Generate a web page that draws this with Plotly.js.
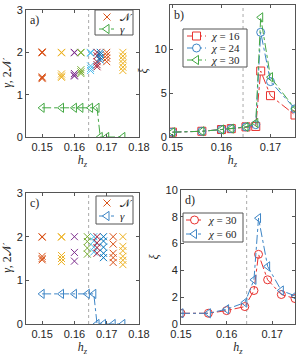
<!DOCTYPE html>
<html><head><meta charset="utf-8">
<script src="https://cdn.plot.ly/plotly-3.0.1.min.js"></script>
<style>html,body{margin:0;padding:0;background:#fff}#plot{width:299px;height:356px}</style>
</head><body><div id="plot"></div>
<script>
// ---------- data: panels a) and b) ----------
const hzAB = [0.15, 0.156, 0.16, 0.162, 0.165, 0.167, 0.168, 0.17, 0.175];
const gammaA = [0.69, 0.69, 0.69, 0.69, 0.69, 0.69, 0, 0, 0];
const twoNA = [
  [2.0, 1.99, 2.01, 1.42, 1.38, 1.40],
  [2.0, 1.99, 1.49, 1.44, 1.41],
  [2.0, 1.99, 1.50, 1.46, 1.44],
  [2.0, 1.99, 1.59, 1.54, 1.50],
  [2.0, 1.98, 1.68, 1.62, 1.57],
  [2.0, 1.92, 1.78, 1.71, 1.66],
  [2.0, 1.95, 1.88, 1.82],
  [2.0, 1.93, 1.86, 1.78],
  [2.0, 1.91, 1.83, 1.74, 1.65, 1.57]
];
const xiB16 = [0.55, 0.65, 0.85, 0.95, 1.15, 1.2, 7.5, 4.7, 2.5];
const xiB24 = [0.55, 0.65, 0.85, 0.95, 1.15, 1.4, 11.9, 6.3, 3.2];
const xiB30 = [0.55, 0.65, 0.85, 0.95, 1.15, 1.6, 13.6, 6.8, 3.2];
// ---------- data: panels c) and d) ----------
const hzCD = [0.15, 0.156, 0.16, 0.164, 0.166, 0.167, 0.169, 0.172, 0.175];
const gammaC = [0.69, 0.69, 0.69, 0.69, 0.69, 0, 0, 0, 0];
const twoNC = [
  [2.0, 1.99, 1.55, 1.50, 1.47],
  [2.0, 1.99, 1.57, 1.50, 1.43],
  [2.0, 1.64, 1.44],
  [2.0, 1.89, 1.74, 1.60],
  [2.0, 1.90, 1.76, 1.65],
  [2.0, 1.86, 1.75, 1.62],
  [2.0, 1.90, 1.76, 1.62, 1.52],
  [2.0, 1.83, 1.62, 1.52, 1.41],
  [2.0, 1.78, 1.68, 1.55, 1.46, 1.36]
];
const xiD30 = [0.8, 0.8, 1.0, 1.3, 2.5, 5.2, 3.3, 2.2, 1.9];
const xiD60 = [0.8, 0.8, 1.1, 1.6, 3.3, 7.9, 4.3, 2.5, 2.1];
const hzCrit = 0.1644;
const ticksAC = [0.15, 0.16, 0.17, 0.18];
const ticksBD = [0.15, 0.16, 0.17];
const legNamesA = ['𝒩', 'γ'];
const legNamesB = ['χ = 16', 'χ = 24', 'χ = 30'];
const legNamesD = ['χ = 30', 'χ = 60'];

// ---------- styling ----------
const W = 299, H = 356;
const pal = ['#0072BD','#D95319','#EDB120','#7E2F8E','#77AC30','#4DBEEE','#A2142F'];
const RED = '#e8312e', BLUE = '#3d85c6', GREEN = '#44a844';
const tickFont = {family: 'Liberation Sans, Arial, sans-serif', size: 11, color: '#262626'};
const mathFont = {family: 'Liberation Serif, DejaVu Serif, serif', size: 12, color: '#262626'};
const legFont = {family: 'Liberation Serif, DejaVu Serif, serif', size: 11, color: '#262626'};
function px(x0, x1) { return [x0 / W, x1 / W]; }
function py(top, bot) { return [1 - bot / H, 1 - top / H]; }
function ital(s) { return s.replace(/([χγ])/g, '<i>$1</i>'); }

const traces = [];
const shapes = [];
const annotations = [];
function crossTraces(hz, cols, xa, ya) {
  cols.forEach((ys, i) => {
    const c = pal[(i + 1) % pal.length];
    traces.push({
      x: ys.map(() => hz[i]), y: ys, xaxis: xa, yaxis: ya, mode: 'markers', type: 'scatter',
      showlegend: false,
      marker: {symbol: 'x-thin', size: 7, color: c, line: {width: 1, color: c}}
    });
  });
}
function lineTrace(x, y, xa, ya, color, sym) {
  traces.push({
    x: x, y: y, xaxis: xa, yaxis: ya, mode: 'lines+markers', type: 'scatter', showlegend: false,
    line: {color: color, width: 1, dash: 'dashdot'},
    marker: {symbol: sym, size: 8, color: color, line: {width: 1, color: color}}
  });
}
crossTraces(hzAB, twoNA, 'x', 'y');
lineTrace(hzAB, gammaA, 'x', 'y', GREEN, 'triangle-left-open');
lineTrace(hzAB, xiB16, 'x2', 'y2', RED, 'square-open');
lineTrace(hzAB, xiB24, 'x2', 'y2', BLUE, 'circle-open');
lineTrace(hzAB, xiB30, 'x2', 'y2', GREEN, 'triangle-left-open');
crossTraces(hzCD, twoNC, 'x3', 'y3');
lineTrace(hzCD, gammaC, 'x3', 'y3', BLUE, 'triangle-left-open');
lineTrace(hzCD, xiD30, 'x4', 'y4', RED, 'circle-open');
lineTrace(hzCD, xiD60, 'x4', 'y4', BLUE, 'triangle-left-open');

// compact MATLAB-style legends drawn in pixel space (legend glyphs, not data)
function P(x, y) { return (x / W).toFixed(5) + ',' + (1 - y / H).toFixed(5); }
function glyphPath(sym, cx, cy) {
  if (sym === 'x') { const r = 3.5;
    return 'M' + P(cx - r, cy - r) + 'L' + P(cx + r, cy + r) + 'M' + P(cx - r, cy + r) + 'L' + P(cx + r, cy - r); }
  if (sym === 'square') { const r = 4;
    return 'M' + P(cx - r, cy - r) + 'L' + P(cx + r, cy - r) + 'L' + P(cx + r, cy + r) + 'L' + P(cx - r, cy + r) + 'Z'; }
  if (sym === 'tri') { const rt = 4.62, r2 = 2;
    return 'M' + P(cx - rt, cy) + 'L' + P(cx + r2, cy - rt) + 'L' + P(cx + r2, cy + rt) + 'Z'; }
  return '';
}
function legend(box, rows, lineX, names, items) {
  shapes.push({type: 'rect', xref: 'paper', yref: 'paper', x0: box[0] / W, x1: box[1] / W,
    y0: 1 - box[3] / H, y1: 1 - box[2] / H, fillcolor: '#fff', line: {color: '#555', width: 1}, layer: 'above'});
  const cx = (lineX[0] + lineX[1]) / 2;
  items.forEach((it, k) => {
    const yy = rows[k];
    if (it.line) shapes.push({type: 'line', xref: 'paper', yref: 'paper', x0: lineX[0] / W, x1: lineX[1] / W,
      y0: 1 - yy / H, y1: 1 - yy / H, line: {color: it.color, width: 1, dash: 'dashdot'}, layer: 'above'});
    if (it.sym === 'circle') {
      shapes.push({type: 'circle', xref: 'paper', yref: 'paper', x0: (cx - 4) / W, x1: (cx + 4) / W,
        y0: 1 - (yy + 4) / H, y1: 1 - (yy - 4) / H, fillcolor: '#fff', line: {color: it.color, width: 1}, layer: 'above'});
    } else {
      shapes.push({type: 'path', xref: 'paper', yref: 'paper', path: glyphPath(it.sym, cx, yy),
        fillcolor: it.sym === 'x' ? 'rgba(0,0,0,0)' : '#fff', line: {color: it.color, width: 1}, layer: 'above'});
    }
    annotations.push({text: ital(names[k]), xref: 'paper', yref: 'paper', x: (lineX[1] + 3) / W, y: 1 - yy / H,
      xanchor: 'left', yanchor: 'middle', showarrow: false, font: legFont});
  });
}
legend([95, 133, 10, 35], [17, 29], [99, 115], legNamesA,
  [{sym: 'x', color: pal[1], line: false}, {sym: 'tri', color: GREEN, line: true}]);
legend([183, 247, 29, 67], [36, 48, 60], [187, 206], legNamesB,
  [{sym: 'square', color: RED, line: true}, {sym: 'circle', color: BLUE, line: true}, {sym: 'tri', color: GREEN, line: true}]);
legend([96, 133, 196, 224], [203, 216], [99, 115], legNamesA,
  [{sym: 'x', color: pal[1], line: false}, {sym: 'tri', color: BLUE, line: true}]);
legend([183, 243, 213, 242], [220, 234], [186, 203], legNamesD,
  [{sym: 'circle', color: RED, line: true}, {sym: 'tri', color: BLUE, line: true}]);

function xax(dom, range, ticks, anchor) {
  return {domain: dom, range: range, tickvals: ticks, ticktext: ticks.map(t => t.toFixed(2)),
    anchor: anchor, showgrid: false, zeroline: false, showline: true, mirror: 'ticks',
    linecolor: '#555', linewidth: 1, ticks: 'inside', ticklen: 3, tickcolor: '#555',
    tickfont: tickFont, title: {text: '<i>h<sub>z</sub></i>', font: mathFont, standoff: 2}};
}
function yax(dom, range, dtick, anchor, title) {
  return {domain: dom, range: range, dtick: dtick, anchor: anchor,
    showgrid: false, zeroline: false,
    showline: true, mirror: 'ticks', linecolor: '#555', linewidth: 1, ticks: 'inside', ticklen: 3,
    tickcolor: '#555', tickfont: tickFont, title: {text: title, font: mathFont, standoff: 4}};
}
function vline(xa, ya) {
  return {type: 'line', xref: xa, yref: ya + ' domain', x0: hzCrit, x1: hzCrit, y0: 0, y1: 1,
    line: {color: '#aaa', width: 1, dash: 'dot'}, layer: 'below'};
}
function label(txt, xa, ya) {
  return {text: txt, xref: xa + ' domain', yref: ya + ' domain', x: 0, y: 1, xanchor: 'left',
    yanchor: 'top', xshift: 2, yshift: -1, showarrow: false, font: mathFont};
}
shapes.push(vline('x', 'y'), vline('x2', 'y2'), vline('x3', 'y3'), vline('x4', 'y4'));
annotations.push(label('a)', 'x', 'y'), label('b)', 'x2', 'y2'), label('c)', 'x3', 'y3'), label('d)', 'x4', 'y4'));

const layout = {
  width: W, height: H, margin: {l: 0, r: 0, t: 0, b: 0}, paper_bgcolor: '#fff', plot_bgcolor: '#fff',
  showlegend: false,
  xaxis: xax(px(26, 139), [0.145, 0.18], ticksAC, 'y'),
  yaxis: yax(py(10, 137), [0, 3.001], 1, 'x', '<i>γ</i>, 2𝒩'),
  xaxis2: xax(px(170, 295), [0.1495, 0.175], ticksBD, 'y2'),
  yaxis2: yax(py(5, 137), [0, 15.005], 5, 'x2', '<i>ξ</i>'),
  xaxis3: xax(px(26, 139), [0.145, 0.18], ticksAC, 'y3'),
  yaxis3: yax(py(193, 324), [0, 3.001], 1, 'x3', '<i>γ</i>, 2𝒩'),
  xaxis4: xax(px(181, 295), [0.15, 0.175], ticksBD, 'y4'),
  yaxis4: yax(py(190, 324), [0, 10.003], 2, 'x4', '<i>ξ</i>'),
  shapes: shapes,
  annotations: annotations
};
Plotly.newPlot('plot', traces, layout, {staticPlot: true, displayModeBar: false});
</script></body></html>
